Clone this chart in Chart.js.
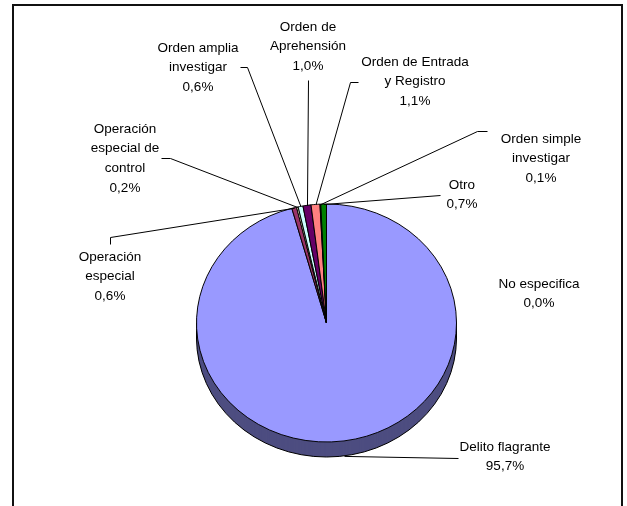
<!DOCTYPE html>
<html>
<head>
<meta charset="utf-8">
<script src="https://cdn.jsdelivr.net/npm/chart.js@4"></script>
<style>
  html, body { margin: 0; padding: 0; background: #fff; }
  canvas { display: block; }
</style>
</head>
<body>
<canvas id="pie" width="627" height="506"></canvas>
<script>
// Data
const categories = ['Delito flagrante', 'No especifica', 'Operación especial', 'Operación especial de control',
    'Orden amplia investigar', 'Orden de Aprehensión', 'Orden de Entrada y Registro', 'Orden simple investigar', 'Otro'];
const shares = [95.7, 0.0, 0.6, 0.2, 0.6, 1.0, 1.1, 0.1, 0.7];
const sliceColors = ['#9999FF', '#0066CC', '#993366', '#FFFFCC', '#CCFFFF', '#660066', '#FF8080', '#004000', '#008000'];

// Label layout: wrapped lines, text centre, leader points on the label side
const labelLayout = [
    { lines: ['Delito flagrante'], x: 505, y: 447, leader: [[458, 458]] },
    { lines: ['No especifica'], x: 539, y: 284, leader: null },
    { lines: ['Operación', 'especial'], x: 110, y: 257, leader: [[110, 244], [110, 237]] },
    { lines: ['Operación', 'especial de', 'control'], x: 125, y: 129, leader: [[161, 158], [170, 158]] },
    { lines: ['Orden amplia', 'investigar'], x: 198, y: 48, leader: [[240, 67], [247, 67]] },
    { lines: ['Orden de', 'Aprehensión'], x: 308, y: 27, leader: [[308, 80]] },
    { lines: ['Orden de Entrada', 'y Registro'], x: 415, y: 62, leader: [[358, 82], [350, 82]] },
    { lines: ['Orden simple', 'investigar'], x: 541, y: 139, leader: [[487, 131], [477, 131]] },
    { lines: ['Otro'], x: 462, y: 185, leader: [[440, 195]] }
];

const tilt = 119 / 130;   // vertical squash of the pie
const depth = 15;         // thickness of the 3d side
const lineH = 19.7;
const fontSpec = '13.5px "Liberation Sans", Arial, sans-serif';

const fmtPct = v => v.toFixed(1).replace('.', ',') + '%';

function darken(hex) {
    const n = parseInt(hex.slice(1), 16);
    const r = (n >> 16) & 255, g = (n >> 8) & 255, b = n & 255;
    return `rgb(${Math.round(r * 0.5)}, ${Math.round(g * 0.5)}, ${Math.round(b * 0.5)})`;
}

// point on the slice rim at its mid angle (on the bottom edge for the front half)
function rimPoint(arc) {
    const mid = (arc.startAngle + arc.endAngle) / 2;
    const x = arc.x + arc.outerRadius * Math.cos(mid);
    let y = arc.y + arc.outerRadius * Math.sin(mid) * tilt;
    if (Math.sin(mid) > 0.3) y += depth;
    return [x, y];
}

const pie3d = {
    id: 'pie3d',
    beforeDraw(chart) {
        const ctx = chart.ctx;
        ctx.save();
        ctx.strokeStyle = '#111';
        ctx.lineWidth = 2;
        ctx.strokeRect(13, 5, 609, 540);
        ctx.restore();
    },
    beforeDatasetsDraw(chart) {
        const ctx = chart.ctx;
        const arcs = chart.getDatasetMeta(0).data;
        const cx = arcs[0].x, cy = arcs[0].y, r = arcs[0].outerRadius;

        // side of the pie
        ctx.save();
        for (let d = depth; d >= 1; d--) {
            arcs.forEach((arc, i) => {
                if (arc.endAngle - arc.startAngle <= 0) return;
                ctx.beginPath();
                ctx.moveTo(cx, cy + d);
                ctx.ellipse(cx, cy + d, r, r * tilt, 0, arc.startAngle, arc.endAngle);
                ctx.closePath();
                ctx.fillStyle = darken(sliceColors[i]);
                ctx.fill();
            });
        }
        ctx.strokeStyle = '#000';
        ctx.lineWidth = 1;
        ctx.beginPath();
        ctx.ellipse(cx, cy + depth, r, r * tilt, 0, 0, Math.PI);
        ctx.moveTo(cx - r, cy);
        ctx.lineTo(cx - r, cy + depth);
        ctx.moveTo(cx + r, cy);
        ctx.lineTo(cx + r, cy + depth);
        ctx.stroke();
        ctx.restore();

        // squash the top face
        ctx.save();
        ctx.translate(cx, cy);
        ctx.scale(1, tilt);
        ctx.translate(-cx, -cy);
    },
    afterDatasetsDraw(chart) {
        const ctx = chart.ctx;
        ctx.restore();

        const arcs = chart.getDatasetMeta(0).data;
        ctx.save();
        ctx.strokeStyle = '#000';
        ctx.lineWidth = 1;
        ctx.fillStyle = '#000';
        ctx.font = fontSpec;
        ctx.textAlign = 'center';
        ctx.textBaseline = 'middle';
        labelLayout.forEach((lab, i) => {
            if (lab.leader) {
                const pts = lab.leader.concat([rimPoint(arcs[i])]);
                ctx.beginPath();
                ctx.moveTo(pts[0][0] + 0.5, pts[0][1] + 0.5);
                pts.slice(1).forEach(p => ctx.lineTo(p[0] + 0.5, p[1] + 0.5));
                ctx.stroke();
            }
            const lines = lab.lines.concat([fmtPct(shares[i])]);
            lines.forEach((t, j) => ctx.fillText(t, lab.x, lab.y + j * lineH));
        });
        ctx.restore();
    }
};

new Chart(document.getElementById('pie').getContext('2d'), {
    type: 'pie',
    data: {
        labels: categories,
        datasets: [{
            data: shares,
            backgroundColor: sliceColors,
            borderColor: '#000',
            borderWidth: 1
        }]
    },
    options: {
        responsive: false,
        animation: false,
        layout: { padding: { left: 196, right: 170, top: 192, bottom: 52 } },
        plugins: {
            legend: { display: false },
            tooltip: { enabled: false }
        }
    },
    plugins: [pie3d]
});
</script>
</body>
</html>
